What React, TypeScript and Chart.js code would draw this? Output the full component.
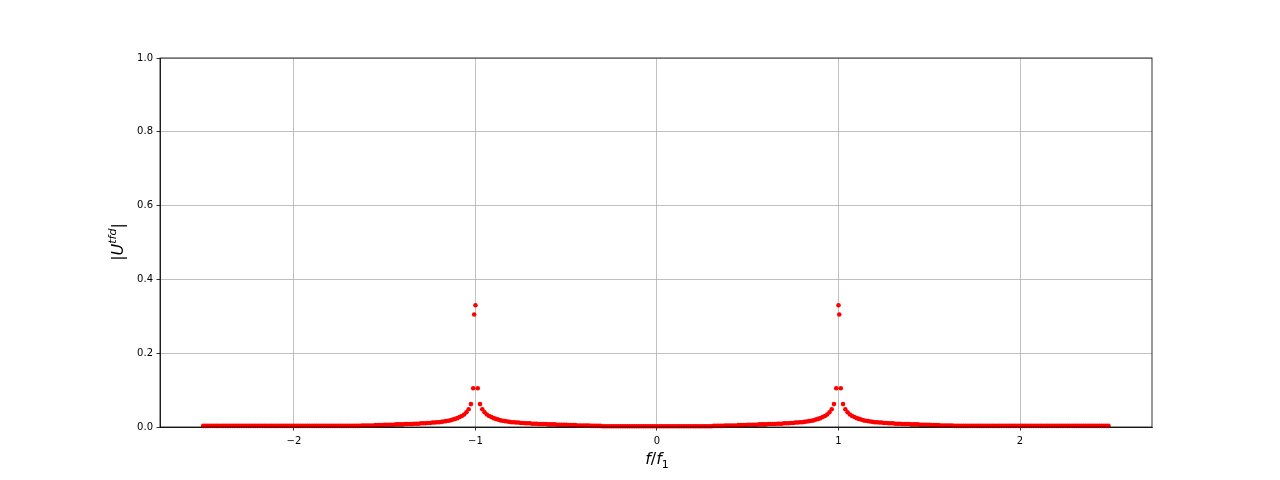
import { useEffect, useRef } from "react";
import { Chart, registerables } from "chart.js";

Chart.register(...registerables);

// Frequency grid (f/f1) of the spectrum samples
const freqStart = -2.5;
const freqStep = 0.0125;

// |U^tfd| at each grid frequency (400 samples)
const magnitude = [
  // -2.5 .. -1.6375
  0.003, 0.003, 0.003, 0.003, 0.003, 0.003, 0.003, 0.003, 0.003, 0.003,
  0.003, 0.003, 0.003, 0.003, 0.003, 0.003, 0.003, 0.003, 0.003, 0.003,
  0.003, 0.003, 0.003, 0.003, 0.003, 0.003, 0.003, 0.003, 0.003, 0.003,
  0.003, 0.003, 0.003, 0.003, 0.003, 0.003, 0.003, 0.003, 0.003, 0.003,
  0.003, 0.003, 0.003, 0.003, 0.003, 0.003, 0.003, 0.003, 0.003, 0.003,
  0.003, 0.003, 0.003, 0.003, 0.003, 0.003, 0.003, 0.003, 0.003, 0.003,
  0.003, 0.003, 0.003, 0.003, 0.003, 0.003, 0.003, 0.003, 0.003, 0.003,
  // -1.625 .. -1.0125
  0.004, 0.004, 0.004, 0.004, 0.004, 0.004, 0.005, 0.005, 0.005, 0.005,
  0.006, 0.006, 0.006, 0.006, 0.006, 0.007, 0.007, 0.007, 0.007, 0.008,
  0.008, 0.008, 0.008, 0.009, 0.009, 0.009, 0.010, 0.010, 0.010, 0.011,
  0.011, 0.012, 0.012, 0.013, 0.013, 0.014, 0.015, 0.016, 0.017, 0.018,
  0.020, 0.022, 0.024, 0.027, 0.030, 0.034, 0.040, 0.048, 0.062, 0.105,
  // -1.0
  0.33,
  // -0.9875 .. -0.0125
  0.105, 0.062, 0.048, 0.040, 0.034, 0.030, 0.027, 0.024, 0.022, 0.020,
  0.018, 0.017, 0.016, 0.015, 0.014, 0.013, 0.013, 0.012, 0.012, 0.011,
  0.011, 0.010, 0.010, 0.010, 0.009, 0.009, 0.009, 0.008, 0.008, 0.008,
  0.008, 0.007, 0.007, 0.007, 0.007, 0.006, 0.006, 0.006, 0.006, 0.006,
  0.005, 0.005, 0.005, 0.005, 0.004, 0.004, 0.004, 0.004, 0.004, 0.004,
  0.003, 0.003, 0.003, 0.003, 0.003, 0.002, 0.002, 0.002, 0.002, 0.002,
  0.002, 0.002, 0.002, 0.002, 0.002, 0.002, 0.002, 0.002, 0.002, 0.002,
  0.002, 0.002, 0.002, 0.002, 0.002, 0.002, 0.002, 0.002, 0.002,
  // 0.0 .. 0.9875
  0.002, 0.002, 0.002, 0.002, 0.002, 0.002, 0.002, 0.002, 0.002, 0.002,
  0.002, 0.002, 0.002, 0.002, 0.002, 0.002, 0.002, 0.002, 0.002, 0.002,
  0.002, 0.002, 0.002, 0.002, 0.002, 0.003, 0.003, 0.003, 0.003, 0.003,
  0.004, 0.004, 0.004, 0.004, 0.004, 0.004, 0.005, 0.005, 0.005, 0.005,
  0.006, 0.006, 0.006, 0.006, 0.006, 0.007, 0.007, 0.007, 0.007, 0.008,
  0.008, 0.008, 0.008, 0.009, 0.009, 0.009, 0.010, 0.010, 0.010, 0.011,
  0.011, 0.012, 0.012, 0.013, 0.013, 0.014, 0.015, 0.016, 0.017, 0.018,
  0.020, 0.022, 0.024, 0.027, 0.030, 0.034, 0.040, 0.048, 0.062, 0.105,
  // 1.0
  0.33,
  // 1.0125 .. 2.4875
  0.105, 0.062, 0.048, 0.040, 0.034, 0.030, 0.027, 0.024, 0.022, 0.020,
  0.018, 0.017, 0.016, 0.015, 0.014, 0.013, 0.013, 0.012, 0.012, 0.011,
  0.011, 0.010, 0.010, 0.010, 0.009, 0.009, 0.009, 0.008, 0.008, 0.008,
  0.008, 0.007, 0.007, 0.007, 0.007, 0.006, 0.006, 0.006, 0.006, 0.006,
  0.005, 0.005, 0.005, 0.005, 0.004, 0.004, 0.004, 0.004, 0.004, 0.004,
  0.003, 0.003, 0.003, 0.003, 0.003, 0.003, 0.003, 0.003, 0.003, 0.003,
  0.003, 0.003, 0.003, 0.003, 0.003, 0.003, 0.003, 0.003, 0.003, 0.003,
  0.003, 0.003, 0.003, 0.003, 0.003, 0.003, 0.003, 0.003, 0.003, 0.003,
  0.003, 0.003, 0.003, 0.003, 0.003, 0.003, 0.003, 0.003, 0.003, 0.003,
  0.003, 0.003, 0.003, 0.003, 0.003, 0.003, 0.003, 0.003, 0.003, 0.003,
  0.003, 0.003, 0.003, 0.003, 0.003, 0.003, 0.003, 0.003, 0.003, 0.003,
  0.003, 0.003, 0.003, 0.003, 0.003, 0.003, 0.003, 0.003, 0.003,
];

// Off-grid samples right next to the peaks
const extraFreqs = [-1.007, 1.004];
const extraMags = [0.305, 0.305];

const xTicks = [-2, -1, 0, 1, 2];
const yTicks = [0, 0.2, 0.4, 0.6, 0.8, 1.0];
const xMin = -2.738;
const xMax = 2.727;

const FONT = "DejaVu Sans";

type Run = { t: string; font: string; dy: number };

function drawRuns(ctx: CanvasRenderingContext2D, runs: Run[], cx: number, baseline: number) {
  let total = 0;
  const widths = runs.map((r) => {
    ctx.font = r.font;
    const w = ctx.measureText(r.t).width;
    total += w;
    return w;
  });
  let x = cx - total / 2;
  ctx.textBaseline = "alphabetic";
  ctx.textAlign = "left";
  runs.forEach((r, i) => {
    ctx.font = r.font;
    ctx.fillText(r.t, x, baseline + r.dy);
    x += widths[i];
  });
}

const framePlugin = {
  id: "frameAndLabels",
  afterDatasetsDraw(chart: any) {
    const { ctx, chartArea: a } = chart;
    ctx.save();
    ctx.strokeStyle = "#000";
    ctx.lineWidth = 0.8;
    ctx.strokeRect(a.left, a.top, a.right - a.left, a.bottom - a.top);
    ctx.restore();
  },
  afterDraw(chart: any) {
    const { ctx } = chart;
    ctx.save();
    ctx.fillStyle = "#000";
    // x label: f/f_1
    drawRuns(
      ctx,
      [
        { t: "f", font: `italic 16px ${FONT}`, dy: 0 },
        { t: "/", font: `16px ${FONT}`, dy: 0 },
        { t: "f", font: `italic 16px ${FONT}`, dy: 0 },
        { t: "1", font: `11px ${FONT}`, dy: 3.5 },
      ],
      657,
      464
    );
    // y label: |U^{tfd}|
    ctx.translate(123, 242);
    ctx.rotate(-Math.PI / 2);
    drawRuns(
      ctx,
      [
        { t: "|", font: `16px ${FONT}`, dy: 0 },
        { t: "U", font: `italic 16px ${FONT}`, dy: 0 },
        { t: "tfd", font: `italic 11px ${FONT}`, dy: -7 },
        { t: "|", font: `16px ${FONT}`, dy: 0 },
      ],
      0,
      0
    );
    ctx.restore();
  },
};

export default function App() {
  const canvasRef = useRef<HTMLCanvasElement | null>(null);

  useEffect(() => {
    document.body.style.margin = "0";
    const canvas = canvasRef.current;
    if (!canvas) return;

    const points = magnitude.map((m, i) => ({ x: freqStart + i * freqStep, y: m }));
    extraFreqs.forEach((f, i) => points.push({ x: f, y: extraMags[i] }));

    const chart = new Chart(canvas, {
      type: "scatter",
      data: {
        datasets: [
          {
            data: points,
            backgroundColor: "#ff0000",
            borderColor: "#ff0000",
            borderWidth: 0,
            pointRadius: 2.3,
            pointHoverRadius: 2.3,
            clip: false as any,
          },
        ],
      },
      options: {
        animation: false,
        responsive: false,
        events: [],
        layout: { padding: { top: 58, right: 128, bottom: 0, left: 0 } },
        plugins: { legend: { display: false }, tooltip: { enabled: false } },
        scales: {
          x: {
            type: "linear",
            min: xMin,
            max: xMax,
            afterFit: (s: any) => {
              s.height = 53;
            },
            afterBuildTicks: (s: any) => {
              s.ticks = xTicks.map((v) => ({ value: v }));
            },
            ticks: {
              font: { family: FONT, size: 10 },
              color: "#000",
              padding: 4.5,
              maxRotation: 0,
              callback: (v: any) => (Number(v) < 0 ? "\u2212" + Math.abs(Number(v)) : String(v)),
            },
            grid: {
              color: "#b0b0b0",
              lineWidth: 0.8,
              tickColor: "#000",
              tickLength: 3.5,
            },
            border: { display: true, color: "#000", width: 0.8 },
          },
          y: {
            type: "linear",
            min: 0,
            max: 1,
            afterFit: (s: any) => {
              s.width = 160;
            },
            afterBuildTicks: (s: any) => {
              s.ticks = yTicks.map((v) => ({ value: v }));
            },
            ticks: {
              font: { family: FONT, size: 10 },
              color: "#000",
              padding: 3.5,
              callback: (v: any) => Number(v).toFixed(1),
            },
            grid: {
              color: "#b0b0b0",
              lineWidth: 0.8,
              tickColor: "#000",
              tickLength: 3.5,
            },
            border: { display: true, color: "#000", width: 0.8 },
          },
        },
      },
      plugins: [framePlugin],
    });

    return () => chart.destroy();
  }, []);

  return (
    <div style={{ width: 1280, height: 480 }}>
      <canvas ref={canvasRef} width={1280} height={480} style={{ display: "block" }} />
    </div>
  );
}
